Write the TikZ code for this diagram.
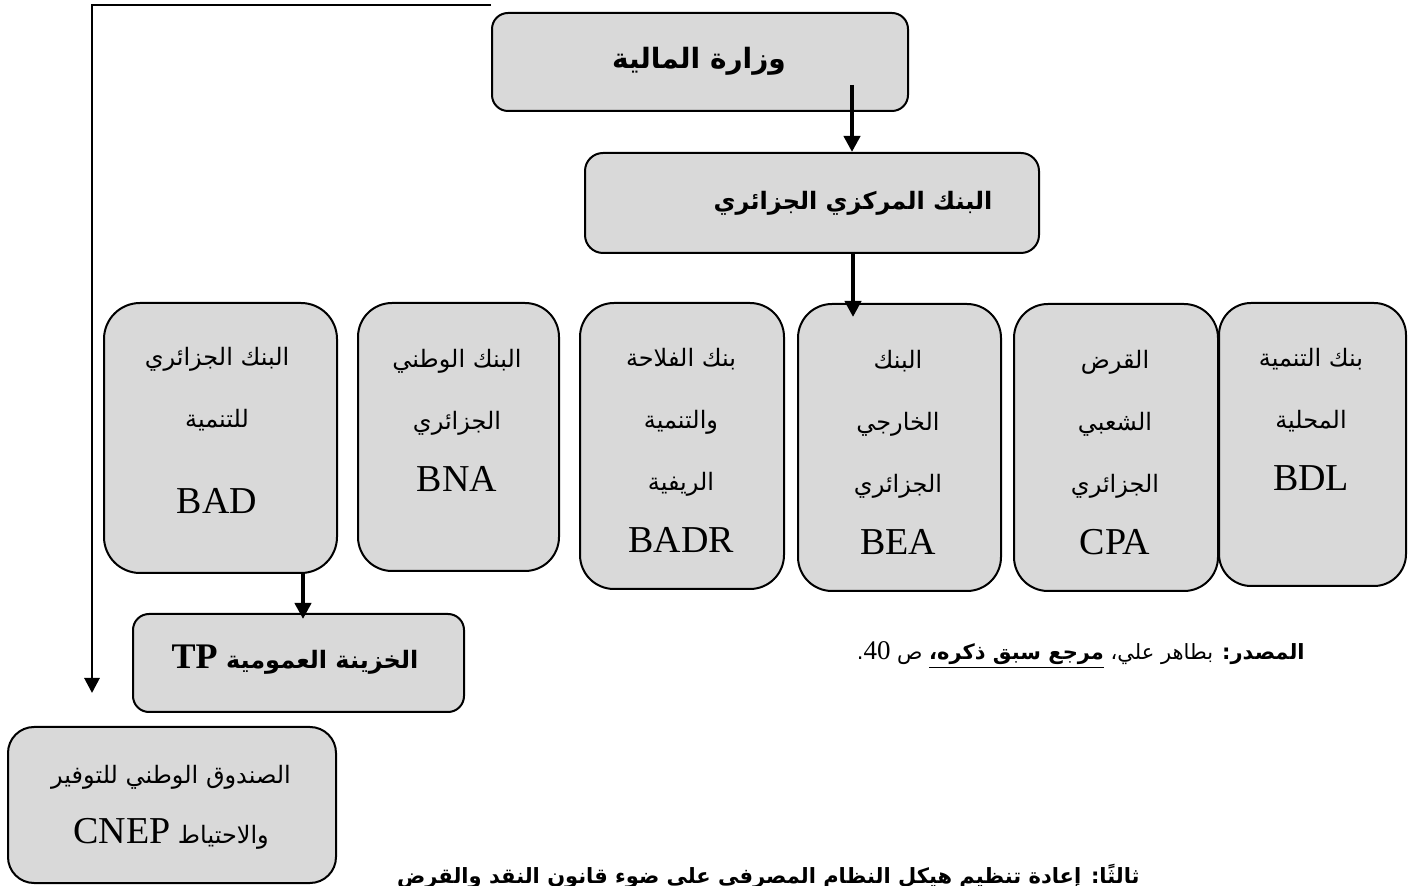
\documentclass[tikz,border=0pt]{standalone}
\usepackage{fontspec}
\setmainfont{Liberation Serif}
\newfontfamily\arabicfont[Script=Arabic]{DejaVu Sans}
\TeXXeTstate=1
\usetikzlibrary{arrows.meta}
\definecolor{boxgray}{HTML}{D9D9D9}
\newcommand{\arline}[1]{\beginR#1\endR}
\newcommand{\lat}[1]{\beginL{\rmfamily\fontsize{19}{31}\selectfont #1}\endL}
\tikzset{
  box/.style={draw, fill=boxgray, line width=1pt, rounded corners=#1, inner sep=0pt, anchor=north west},
  box/.default=9pt,
  lbl/.style={align=center, inner sep=0pt, font=\arabicfont\fontsize{12}{31}\selectfont},
  head/.style={inner sep=0pt, font=\arabicfont\bfseries\fontsize{14}{20}\selectfont},
  arr/.style={-{Triangle[length=8pt,width=8pt]}, line width=2.3pt},
  thinarr/.style={-{Triangle[length=7.5pt,width=7.5pt]}, line width=1.4pt},
}
\begin{document}
\begin{tikzpicture}[x=0.5pt,y=-0.5pt]
  \useasboundingbox (0,0) rectangle (1413,886);
  \clip (0,0) rectangle (1413,886);

  % top
  \node[box=8pt, minimum width=208pt, minimum height=49pt] (wm) at (491,12) {};
  \node[head] (wmT) at (699,61) {\arline{وزارة المالية}};
  \node[box, minimum width=227pt, minimum height=50pt] (bc) at (584,152) {};
  \node[head, font=\arabicfont\bfseries\fontsize{12}{20}\selectfont] (bcT) at (853,203) {\arline{البنك المركزي الجزائري}};

  % banks
  \node[box=18pt, minimum width=116.5pt, minimum height=135pt] (bad) at (103,302) {};
  \node[box=17pt, minimum width=100.5pt, minimum height=134pt] (bna) at (357,302) {};
  \node[box=17pt, minimum width=102pt, minimum height=143pt] (badr) at (579,302) {};
  \node[box=17pt, minimum width=101.5pt, minimum height=143.5pt] (bea) at (797,303) {};
  \node[box=17pt, minimum width=102pt, minimum height=143.5pt] (cpa) at (1013,303) {};
  \node[box=16pt, minimum width=93.5pt, minimum height=141.5pt] (bdl) at (1218,302) {};

  \node[lbl] (badT) at (217,430) {\arline{البنك الجزائري}\\\arline{للتنمية}\\[12pt]\lat{BAD}};
  \node[lbl] (bnaT) at (457,420) {\arline{البنك الوطني}\\\arline{الجزائري}\\\lat{BNA}};
  \node[lbl] (badrT) at (681,450) {\arline{بنك الفلاحة}\\\arline{والتنمية}\\\arline{الريفية}\\\lat{BADR}};
  \node[lbl] (beaT) at (898,452) {\arline{البنك}\\\arline{الخارجي}\\\arline{الجزائري}\\\lat{BEA}};
  \node[lbl] (cpaT) at (1115,453) {\arline{القرض}\\\arline{الشعبي}\\\arline{الجزائري}\\\lat{CPA}};
  \node[lbl] (bdlT) at (1311,419) {\arline{بنك التنمية}\\\arline{المحلية}\\\lat{BDL}};

  % bottom left
  \node[box=8pt, minimum width=165.5pt, minimum height=49pt] (tp) at (132,613) {};
  \node[head, font=\arabicfont\bfseries\fontsize{12}{20}\selectfont] (tpT) at (295,660) {\arline{الخزينة العمومية {\rmfamily\fontsize{18}{20}\selectfont\beginL TP\endL}}};
  \node[box=13pt, minimum width=164pt, minimum height=78pt] (cnep) at (7,726) {};
  \node[lbl, font=\arabicfont\fontsize{12}{30}\selectfont] (cnepT) at (171,807) {\arline{الصندوق الوطني للتوفير}\\\arline{والاحتياط \lat{CNEP}}};

  % arrows
  \coordinate (wmOut) at (852,85);
  \coordinate (bcOut) at (853,252);
  \coordinate (badOut) at (303,572);
  \coordinate (wmCorner) at (491,5);
  \coordinate (cnepIn) at (92,693);
  \draw[arr] (wmOut) -- (wmOut |- bc.north);
  \draw[arr, shorten >=-7pt] (bcOut) -- (bcOut |- bea.north);
  \draw[arr, shorten >=-3pt] (badOut) -- (badOut |- tp.north);
  \draw[thinarr] (wmCorner) -| (cnepIn);

  % source
  \node[inner sep=0pt, anchor=east, font=\arabicfont\fontsize{10.5}{14}\selectfont] (src) at (1305,655)
    {\beginR{\bfseries المصدر:} بطاهر علي، \underline{\hbox{\beginR\bfseries مرجع سبق ذكره،\endR}} ص {\rmfamily\fontsize{13.5}{14}\selectfont\beginL 40\endL}.\endR};

  % next heading, cut by the page
  \node[head, anchor=north east, font=\arabicfont\bfseries\fontsize{10.5}{14}\selectfont] (next) at (1140,864)
    {\arline{ثالثًا: إعادة تنظيم هيكل النظام المصرفي على ضوء قانون النقد والقرض}};
\end{tikzpicture}
\end{document}
